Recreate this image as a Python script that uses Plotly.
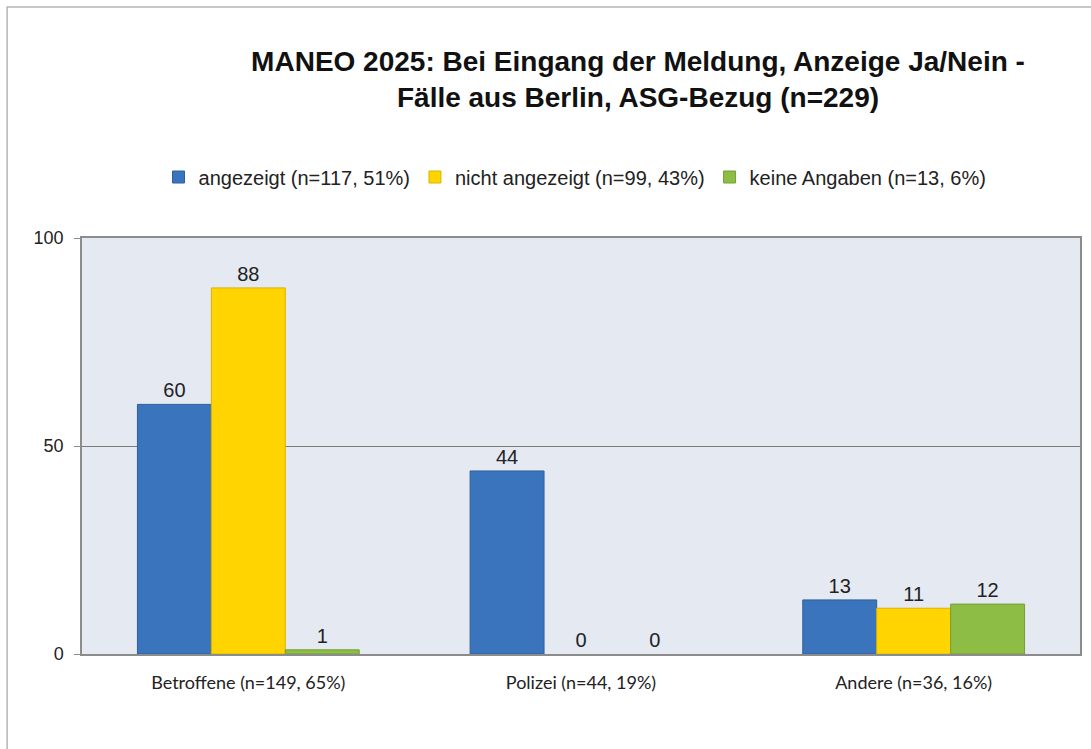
import plotly.graph_objects as go

categories = ["Betroffene (n=149, 65%)", "Polizei (n=44, 19%)", "Andere (n=36, 16%)"]
series_names = ["angezeigt (n=117, 51%)", "nicht angezeigt (n=99, 43%)", "keine Angaben (n=13, 6%)"]
angezeigt = [60, 44, 13]
nicht_angezeigt = [88, 0, 11]
keine_angaben = [1, 0, 12]
y_ticks = [0, 50, 100]

fills = ["#3a74bd", "#ffd400", "#8dbd45"]
edges = ["#2f5f9c", "#d9b400", "#73a035"]

W, H = 1091, 749
L, R, T, B = 82, 9, 238, 95

fig = go.Figure()
for name, vals, fc, ec in zip(series_names, [angezeigt, nicht_angezeigt, keine_angaben], fills, edges):
    fig.add_trace(go.Bar(
        x=categories, y=vals, name=name,
        marker=dict(color=fc, line=dict(color=ec, width=[1 if v > 0 else 0 for v in vals])),
        text=[str(v) for v in vals], textposition="outside",
        textfont=dict(family="Liberation Sans, Arial", size=20, color="#222222"),
        cliponaxis=False,
    ))

def px_x(p):
    return (p - L) / (W - L - R)

def px_y(p):
    return (H - B - p) / (H - T - B)

fig.update_layout(
    width=W, height=H,
    margin=dict(l=L, r=R, t=T, b=B),
    paper_bgcolor="white",
    plot_bgcolor="#e5e9f2",
    barmode="group",
    bargap=1/3,
    bargroupgap=0,
    title=dict(
        text="MANEO 2025: Bei Eingang der Meldung, Anzeige Ja/Nein -<br>Fälle aus Berlin, ASG-Bezug (n=229)",
        x=638 / W, xanchor="center", y=1 - 71 / H, yanchor="middle", yref="container",
        font=dict(family="Liberation Sans, Arial", size=28, color="#111111", weight="bold"),
    ),
    legend=dict(
        orientation="h", x=px_x(576), xanchor="center", y=px_y(177), yanchor="middle",
        font=dict(family="Liberation Sans, Arial", size=20, color="#222222"),
        bgcolor="rgba(0,0,0,0)", itemwidth=30, traceorder="normal",
    ),
    xaxis=dict(
        showline=True, linecolor="#8c8c8c", linewidth=1.5, mirror=True,
        ticks="", showgrid=False, ticklabelstandoff=12,
        tickfont=dict(family="Lato, Liberation Sans", size=18, color="#222222"),
    ),
    yaxis=dict(
        range=[0, 100], tickvals=y_ticks, ticktext=[str(v) for v in y_ticks],
        showline=True, linecolor="#8c8c8c", linewidth=1.5, mirror=True,
        ticks="outside", ticklen=6, tickcolor="#8c8c8c", ticklabelstandoff=7,
        showgrid=True, gridcolor="#7a7a7a", gridwidth=1,
        zeroline=False,
        tickfont=dict(family="Liberation Sans, Arial", size=18, color="#222222"),
    ),
    shapes=[
        dict(type="rect", xref="paper", yref="paper",
             x0=px_x(7), x1=px_x(1100), y0=px_y(760), y1=px_y(7),
             line=dict(color="#b5b5b5", width=1.5), fillcolor="rgba(0,0,0,0)", layer="below"),
    ],
)

fig.write_html("out.html", config={"displayModeBar": False},
               post_script="document.body.style.margin='0';document.body.style.overflow='hidden';")
